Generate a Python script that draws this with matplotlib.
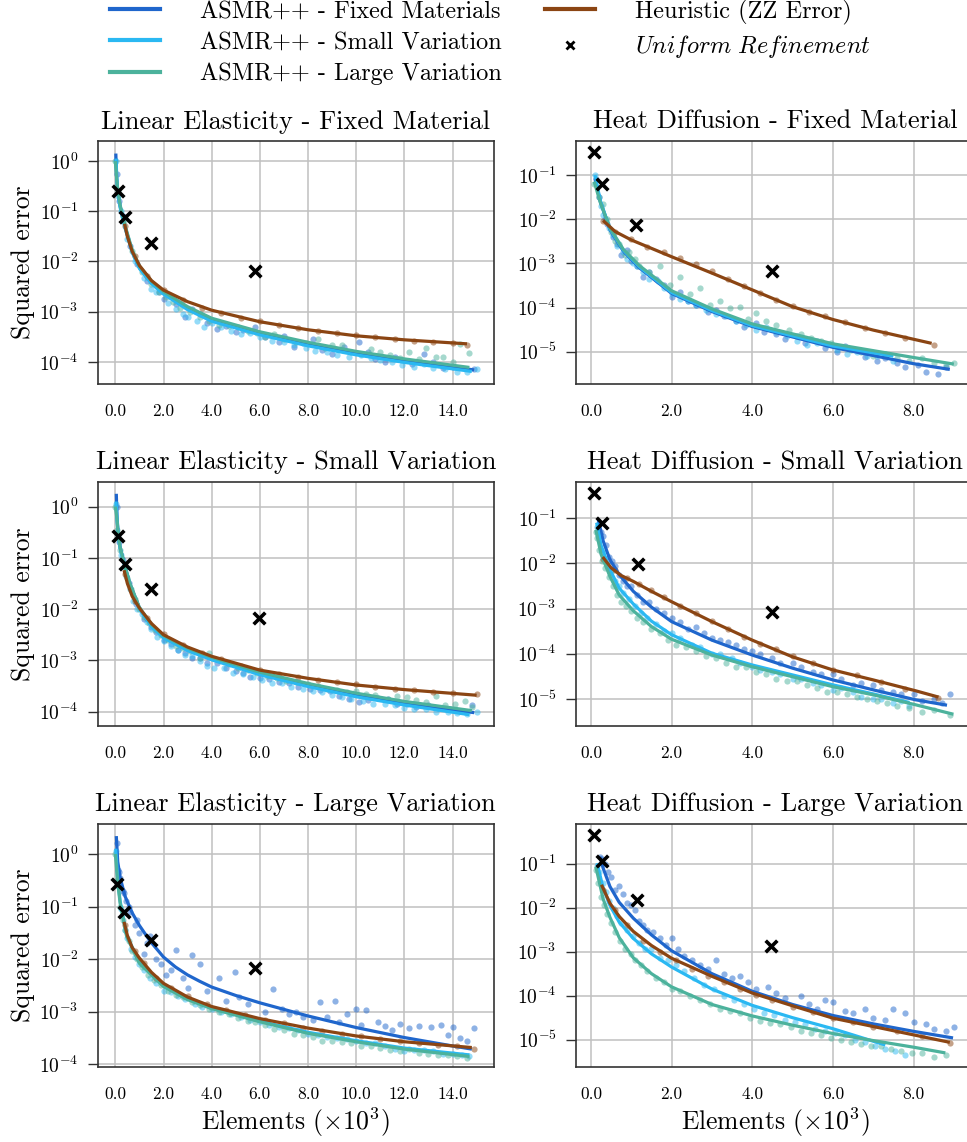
import matplotlib
matplotlib.use("Agg")
import matplotlib.pyplot as plt
import numpy as np
from matplotlib.lines import Line2D
from matplotlib.ticker import FixedLocator, FormatStrFormatter, NullLocator

plt.rcParams['font.family'] = 'cmr10'
plt.rcParams['mathtext.fontset'] = 'cm'
plt.rcParams['axes.formatter.use_mathtext'] = True

# colours of the four methods
C_FIXED = '#1f66cc'
C_SMALL = '#2ab8f2'
C_LARGE = '#4cb29c'
C_HEUR = '#8b4513'

LABELS = ['ASMR++ - Fixed Materials', 'ASMR++ - Small Variation',
          'ASMR++ - Large Variation', 'Heuristic (ZZ Error)',
          r'$\mathit{Uniform\ Refinement}$']

TITLES = ['Linear Elasticity - Fixed Material', 'Heat Diffusion - Fixed Material',
          'Linear Elasticity - Small Variation', 'Heat Diffusion - Small Variation',
          'Linear Elasticity - Large Variation', 'Heat Diffusion - Large Variation']

# all points: (elements in thousands, log10 of squared error)

# ---- Linear Elasticity - Fixed Material
LEF_FIXED_LINE = [(0.02, 0.15), (0.05, -0.3), (0.1, -0.6), (0.2, -0.9), (0.4, -1.3), (0.7, -1.8), (1.0, -2.12),
                  (1.5, -2.42), (2.0, -2.62), (3.0, -2.93), (4.0, -3.16), (6.0, -3.43), (8.0, -3.65),
                  (10.0, -3.83), (12.0, -3.98), (14.9, -4.16)]
LEF_SMALL_LINE = [(0.03, 0.05), (0.06, -0.35), (0.1, -0.62), (0.2, -0.93), (0.4, -1.33), (0.7, -1.82),
                  (1.0, -2.14), (1.5, -2.44), (2.0, -2.65), (3.0, -2.96), (4.0, -3.19), (6.0, -3.46),
                  (8.0, -3.68), (10.0, -3.86), (12.0, -4.01), (14.8, -4.19)]
LEF_LARGE_LINE = [(0.0, 0.0), (0.05, -0.32), (0.1, -0.58), (0.2, -0.88), (0.4, -1.28), (0.7, -1.77),
                  (1.0, -2.09), (1.5, -2.39), (2.0, -2.6), (3.0, -2.9), (4.0, -3.13), (6.0, -3.4),
                  (8.0, -3.61), (10.0, -3.79), (12.0, -3.94), (14.7, -4.11)]
LEF_HEUR_LINE = [(0.38, -1.25), (0.5, -1.5), (0.7, -1.8), (1.0, -2.08), (1.5, -2.38), (2.0, -2.57), (3.0, -2.8),
                 (4.0, -2.97), (6.0, -3.2), (8.0, -3.36), (10.0, -3.48), (12.0, -3.56), (14.6, -3.64)]
LEF_FIXED_PTS = [(0.05, -0.25), (0.15, -0.8), (0.3, -1.1), (0.6, -1.7), (0.9, -2.05), (1.3, -2.38), (1.8, -2.6),
                 (2.5, -2.85), (3.2, -2.95), (3.8, -3.22), (4.6, -3.28), (5.3, -3.36), (6.2, -3.5), (7.0, -3.48),
                 (7.8, -3.62), (8.6, -3.76), (9.5, -3.7), (10.1, -3.6), (10.8, -3.95), (11.6, -3.9),
                 (12.3, -4.05), (13.2, -4.0), (14.0, -4.1), (14.9, -4.15), (2.0, -2.75), (2.9, -3.1),
                 (3.5, -3.05), (4.2, -3.35), (5.0, -3.4), (5.8, -3.3), (6.8, -3.6), (7.4, -3.7), (8.2, -3.55),
                 (9.0, -3.85), (10.5, -3.8), (11.2, -4.0), (12.8, -3.85), (13.6, -4.12)]
LEF_SMALL_PTS = [(0.03, 0.0), (0.12, -0.7), (0.25, -1.0), (0.5, -1.55), (0.8, -2.0), (1.2, -2.32), (1.7, -2.6),
                 (2.2, -2.82), (2.8, -3.05), (3.4, -3.18), (4.0, -3.22), (4.8, -3.38), (5.6, -3.42),
                 (6.5, -3.58), (7.4, -3.66), (8.3, -3.78), (9.2, -3.86), (10.2, -3.86), (11.0, -3.97),
                 (11.9, -4.06), (12.8, -4.04), (13.7, -4.15), (14.6, -4.2), (15.0, -4.15), (1.5, -2.55),
                 (2.5, -2.95), (3.0, -3.1), (3.7, -3.3), (4.4, -3.3), (5.2, -3.45), (6.0, -3.5), (7.0, -3.6),
                 (7.9, -3.72), (8.8, -3.8), (9.7, -3.9), (10.6, -3.92), (11.5, -4.0), (12.4, -4.1),
                 (13.2, -4.12), (14.2, -4.2)]
LEF_LARGE_PTS = [(0.0, 0.0), (0.1, -0.6), (0.35, -1.2), (0.7, -1.8), (1.1, -2.2), (1.5, -2.45), (2.1, -2.7),
                 (2.7, -2.92), (3.5, -3.1), (4.3, -3.26), (5.1, -3.3), (5.9, -3.42), (6.6, -3.45), (7.5, -3.6),
                 (8.4, -3.55), (9.0, -3.67), (9.8, -3.8), (10.6, -3.75), (11.4, -3.86), (12.2, -3.8),
                 (12.9, -3.72), (13.6, -3.9), (14.3, -3.65), (14.7, -3.82), (1.8, -2.6), (2.4, -2.8),
                 (3.1, -3.0), (3.9, -3.18), (4.7, -3.28), (5.5, -3.38), (6.2, -3.5), (7.0, -3.55), (7.9, -3.62),
                 (8.7, -3.72), (9.4, -3.66), (10.2, -3.85), (11.0, -3.8), (11.8, -3.92), (12.6, -3.95),
                 (13.3, -3.9), (14.0, -4.0)]
LEF_HEUR_PTS = [(0.4, -1.3), (0.8, -1.9), (1.3, -2.28), (2.0, -2.56), (2.8, -2.76), (3.6, -2.92), (4.4, -3.02),
                (5.2, -3.12), (6.0, -3.19), (6.8, -3.27), (7.6, -3.33), (8.4, -3.38), (9.2, -3.43),
                (10.0, -3.47), (10.8, -3.51), (11.6, -3.55), (12.4, -3.58), (13.2, -3.61), (14.0, -3.63),
                (14.6, -3.67)]
LEF_UNIF = [(0.1, -0.59), (0.39, -1.12), (1.49, -1.64), (5.8, -2.19)]

# ---- Heat Diffusion - Fixed Material
HDF_FIXED_LINE = [(0.1, -1.07), (0.23, -1.6), (0.47, -2.24), (0.8, -2.72), (1.2, -3.1), (2.0, -3.68),
                  (3.0, -4.09), (4.0, -4.43), (6.0, -4.9), (8.0, -5.27), (8.9, -5.4)]
HDF_SMALL_LINE = [(0.1, -1.0), (0.23, -1.58), (0.47, -2.22), (0.8, -2.7), (1.2, -3.08), (2.0, -3.66),
                  (3.0, -4.07), (4.0, -4.41), (6.0, -4.87), (7.5, -5.1)]
HDF_LARGE_LINE = [(0.08, -1.15), (0.23, -1.62), (0.47, -2.2), (0.8, -2.68), (1.2, -3.05), (2.0, -3.62),
                  (3.0, -4.03), (4.0, -4.37), (6.0, -4.82), (8.0, -5.13), (9.0, -5.28)]
HDF_HEUR_LINE = [(0.3, -2.03), (0.6, -2.28), (1.0, -2.47), (2.0, -2.85), (3.0, -3.22), (4.0, -3.6),
                 (5.0, -3.98), (6.0, -4.27), (7.0, -4.51), (8.45, -4.81)]
HDF_FIXED_PTS = [(0.12, -1.1), (0.2, -1.5), (0.35, -2.0), (0.55, -2.4), (0.75, -2.8), (1.0, -2.95), (1.3, -3.3),
                 (1.6, -3.35), (2.0, -3.75), (2.4, -3.85), (2.9, -4.1), (3.3, -4.2), (3.8, -4.45), (4.3, -4.55),
                 (4.8, -4.72), (5.3, -4.8), (5.8, -4.92), (6.3, -4.88), (6.8, -5.12), (7.3, -5.15),
                 (7.8, -5.35), (8.3, -5.45), (8.8, -5.35), (0.4, -2.1), (0.65, -2.55), (0.9, -2.7),
                 (1.15, -3.05), (1.45, -3.2), (1.8, -3.5), (2.2, -3.65), (2.6, -3.95), (3.1, -4.05),
                 (3.6, -4.3), (4.1, -4.35), (4.6, -4.6), (5.1, -4.65), (5.6, -4.75), (6.1, -5.0), (6.6, -4.95),
                 (7.1, -5.2), (7.6, -5.25), (8.1, -5.3), (8.6, -5.5)]
HDF_SMALL_PTS = [(0.1, -1.0), (0.25, -1.7), (0.45, -2.2), (0.65, -2.6), (0.9, -2.9), (1.15, -3.05),
                 (1.45, -3.35), (1.8, -3.55), (2.2, -3.8), (2.6, -3.95), (3.1, -4.15), (3.6, -4.3), (4.1, -4.5),
                 (4.6, -4.55), (5.1, -4.75), (5.6, -4.8), (6.1, -4.95), (6.6, -5.0), (7.1, -5.1), (7.5, -5.2),
                 (0.3, -1.9), (0.55, -2.35), (0.8, -2.75), (1.05, -3.0), (1.3, -3.2), (1.65, -3.4), (2.0, -3.7),
                 (2.4, -3.85), (2.85, -4.05), (3.35, -4.2), (3.85, -4.4), (4.35, -4.45), (4.85, -4.65),
                 (5.35, -4.85), (5.85, -4.85), (6.35, -5.05), (6.85, -5.1), (7.3, -5.05)]
HDF_LARGE_PTS = [(0.08, -1.2), (0.3, -1.65), (0.5, -2.3), (0.7, -2.55), (0.95, -2.75), (1.2, -3.05),
                 (1.7, -3.06), (2.2, -3.3), (2.7, -3.56), (3.2, -3.86), (3.7, -3.98), (4.1, -4.13), (4.6, -4.4),
                 (5.2, -4.6), (5.7, -4.75), (6.2, -4.9), (6.7, -5.0), (7.3, -5.05), (7.9, -5.2), (8.5, -5.25),
                 (9.0, -5.25), (0.2, -1.5), (0.4, -2.0), (0.6, -2.5), (0.85, -2.8), (1.1, -2.9), (1.45, -3.2),
                 (1.95, -3.5), (2.45, -3.7), (2.95, -3.95), (3.45, -4.0), (3.9, -4.25), (4.35, -4.3),
                 (4.9, -4.5), (5.45, -4.7), (5.95, -4.8), (6.45, -4.95), (7.0, -5.1), (7.6, -5.15),
                 (8.2, -5.15), (8.8, -5.3)]
HDF_HEUR_PTS = [(0.3, -2.05), (0.6, -2.3), (1.0, -2.45), (1.4, -2.62), (1.8, -2.75), (2.2, -2.88), (2.6, -3.02),
                (3.0, -3.18), (3.4, -3.35), (3.8, -3.52), (4.2, -3.66), (4.6, -3.83), (5.0, -3.97), (5.4, -4.1),
                (5.8, -4.2), (6.3, -4.33), (6.8, -4.47), (7.3, -4.58), (7.8, -4.68), (8.5, -4.85)]
HDF_UNIF = [(0.07, -0.47), (0.28, -1.2), (1.12, -2.12), (4.5, -3.18)]

# ---- Linear Elasticity - Small Variation
LES_FIXED_LINE = [(0.04, 0.25), (0.07, -0.2), (0.12, -0.55), (0.2, -0.8), (0.39, -1.15), (0.6, -1.5),
                  (1.0, -1.98), (1.5, -2.32), (2.0, -2.54), (3.0, -2.78), (4.0, -2.96), (6.0, -3.25),
                  (8.0, -3.48), (10.0, -3.68), (12.0, -3.84), (14.9, -4.02)]
LES_SMALL_LINE = [(0.03, 0.1), (0.07, -0.25), (0.12, -0.58), (0.2, -0.82), (0.39, -1.17), (0.6, -1.52),
                  (1.0, -2.0), (1.5, -2.34), (2.0, -2.56), (3.0, -2.81), (4.0, -2.99), (6.0, -3.28),
                  (8.0, -3.51), (10.0, -3.71), (12.0, -3.87), (14.7, -4.06)]
LES_LARGE_LINE = [(0.0, 0.0), (0.07, -0.25), (0.12, -0.55), (0.2, -0.8), (0.39, -1.14), (0.6, -1.49),
                  (1.0, -1.97), (1.5, -2.3), (2.0, -2.52), (3.0, -2.76), (4.0, -2.94), (6.0, -3.23),
                  (8.0, -3.45), (10.0, -3.64), (12.0, -3.8), (14.8, -3.98)]
LES_HEUR_LINE = [(0.36, -1.24), (0.5, -1.5), (0.7, -1.75), (1.0, -1.98), (1.5, -2.28), (2.0, -2.5),
                 (3.0, -2.74), (4.0, -2.92), (6.0, -3.19), (8.0, -3.35), (10.0, -3.48), (12.0, -3.57),
                 (15.0, -3.68)]
LES_FIXED_PTS = [(0.05, 0.0), (0.15, -0.7), (0.3, -1.05), (0.55, -1.5), (0.85, -1.9), (1.2, -2.2), (1.7, -2.45),
                 (2.3, -2.68), (2.9, -2.85), (3.5, -2.95), (4.2, -3.05), (5.0, -3.2), (5.6, -3.32),
                 (6.4, -3.36), (7.2, -3.45), (8.1, -3.55), (8.9, -3.6), (9.7, -3.75), (10.5, -3.78),
                 (11.3, -3.75), (12.1, -3.85), (13.0, -3.88), (13.9, -3.95), (14.8, -3.88), (1.5, -2.35),
                 (2.0, -2.6), (2.6, -2.8), (3.2, -2.95), (3.8, -3.05), (4.6, -3.15), (5.3, -3.25), (6.0, -3.35),
                 (6.8, -3.42), (7.6, -3.52), (8.5, -3.58), (9.3, -3.7), (10.1, -3.82), (10.9, -3.74),
                 (11.7, -3.85), (12.5, -3.9), (13.4, -3.92), (14.3, -3.98)]
LES_SMALL_PTS = [(0.02, 0.05), (0.1, -0.55), (0.25, -0.95), (0.45, -1.35), (0.75, -1.85), (1.1, -2.1),
                 (1.5, -2.38), (2.0, -2.62), (2.6, -2.8), (3.2, -2.92), (3.8, -3.1), (4.5, -3.15), (5.3, -3.27),
                 (6.1, -3.38), (6.9, -3.45), (7.8, -3.55), (8.6, -3.62), (9.4, -3.72), (10.3, -3.8),
                 (11.2, -3.85), (12.0, -3.92), (12.9, -3.95), (13.8, -4.0), (14.6, -4.05), (0.6, -1.6),
                 (0.9, -2.0), (1.3, -2.25), (1.75, -2.55), (2.3, -2.72), (2.9, -2.9), (3.5, -3.02), (4.1, -3.15),
                 (4.9, -3.25), (5.7, -3.32), (6.5, -3.45), (7.3, -3.52), (8.2, -3.6), (9.0, -3.68), (9.8, -3.75),
                 (10.7, -3.85), (11.6, -3.88), (12.4, -3.95), (13.3, -4.0), (14.2, -4.02), (15.0, -4.0)]
LES_LARGE_PTS = [(0.0, 0.0), (0.08, -0.45), (0.2, -0.85), (0.4, -1.2), (0.65, -1.6), (1.0, -2.0), (1.4, -2.28),
                 (1.9, -2.5), (2.5, -2.72), (3.1, -2.82), (3.9, -2.85), (4.7, -3.08), (5.5, -3.18), (6.3, -3.3),
                 (7.1, -3.4), (8.0, -3.47), (8.8, -3.55), (9.6, -3.62), (10.4, -3.65), (11.3, -3.75),
                 (12.1, -3.72), (12.9, -3.82), (13.7, -3.88), (14.5, -3.8), (0.5, -1.4), (0.8, -1.8),
                 (1.2, -2.15), (1.65, -2.4), (2.2, -2.6), (2.8, -2.75), (3.5, -2.95), (4.3, -3.0), (5.1, -3.15),
                 (5.9, -3.25), (6.7, -3.35), (7.5, -3.42), (8.4, -3.5), (9.2, -3.58), (10.0, -3.6),
                 (10.8, -3.68), (11.7, -3.7), (12.5, -3.78), (13.3, -3.7), (14.1, -3.85), (14.8, -3.9)]
LES_HEUR_PTS = [(0.4, -1.32), (0.8, -1.85), (1.3, -2.18), (2.0, -2.48), (2.8, -2.7), (3.6, -2.86), (4.4, -2.98),
                (5.2, -3.1), (6.0, -3.18), (6.8, -3.26), (7.6, -3.32), (8.4, -3.38), (9.2, -3.43),
                (10.0, -3.47), (10.8, -3.51), (11.6, -3.55), (12.4, -3.58), (13.2, -3.61), (14.0, -3.64),
                (15.0, -3.66)]
LES_UNIF = [(0.09, -0.57), (0.39, -1.11), (1.46, -1.61), (5.97, -2.17)]

# ---- Heat Diffusion - Small Variation
HDS_FIXED_LINE = [(0.18, -1.03), (0.3, -1.5), (0.47, -1.92), (0.7, -2.25), (1.05, -2.62), (1.5, -2.97),
                  (2.0, -3.29), (3.0, -3.7), (4.0, -4.03), (5.0, -4.32), (6.0, -4.58), (7.0, -4.8),
                  (8.05, -5.02), (8.83, -5.14)]
HDS_SMALL_LINE = [(0.14, -1.1), (0.25, -1.6), (0.47, -2.14), (0.7, -2.55), (1.05, -2.9), (1.5, -3.28),
                  (2.0, -3.58), (3.0, -3.99), (4.0, -4.25), (5.0, -4.47), (6.0, -4.69), (7.0, -4.89),
                  (7.9, -5.08)]
HDS_LARGE_LINE = [(0.12, -1.26), (0.25, -1.8), (0.47, -2.29), (0.7, -2.7), (1.05, -3.05), (1.5, -3.4),
                  (2.0, -3.68), (3.0, -4.03), (4.0, -4.29), (5.0, -4.51), (6.0, -4.73), (7.0, -4.91),
                  (8.05, -5.13), (8.99, -5.34)]
HDS_HEUR_LINE = [(0.29, -1.86), (0.5, -2.1), (0.75, -2.27), (1.05, -2.4), (1.5, -2.62), (2.0, -2.85),
                 (3.0, -3.29), (4.0, -3.7), (5.0, -4.07), (6.0, -4.36), (7.0, -4.58), (8.05, -4.82),
                 (8.62, -4.96)]
HDS_FIXED_PTS = [(0.2, -1.1), (0.3, -1.4), (0.45, -1.85), (0.6, -2.05), (0.8, -2.4), (1.0, -2.5), (1.3, -2.85),
                 (1.6, -3.0), (2.0, -3.2), (2.4, -3.45), (2.8, -3.55), (3.2, -3.7), (3.6, -3.8), (4.0, -3.95),
                 (4.5, -4.1), (5.0, -4.2), (5.5, -4.4), (6.0, -4.45), (6.5, -4.7), (7.0, -4.7), (7.5, -4.85),
                 (8.0, -4.9), (8.5, -5.0), (8.9, -4.9), (0.25, -1.3), (0.38, -1.6), (0.52, -1.95), (0.7, -2.25),
                 (0.9, -2.5), (1.15, -2.7), (1.45, -2.85), (1.8, -3.1), (2.2, -3.3), (2.6, -3.4), (3.0, -3.65),
                 (3.4, -3.75), (3.8, -3.9), (4.2, -4.0), (4.7, -4.2), (5.2, -4.3), (5.7, -4.45), (6.2, -4.55),
                 (6.7, -4.65), (7.2, -4.8), (7.7, -4.9), (8.2, -5.05), (8.7, -5.1)]
HDS_SMALL_PTS = [(0.15, -1.2), (0.3, -1.75), (0.5, -2.2), (0.7, -2.5), (0.95, -2.8), (1.25, -3.1), (1.6, -3.35),
                 (2.0, -3.55), (2.5, -3.8), (3.0, -4.0), (3.5, -4.1), (4.0, -4.3), (4.5, -4.4), (5.0, -4.55),
                 (5.5, -4.65), (6.0, -4.8), (6.5, -4.85), (7.0, -5.0), (7.5, -5.1), (7.9, -5.15), (0.2, -1.4),
                 (0.4, -2.0), (0.6, -2.4), (0.8, -2.65), (1.1, -2.95), (1.4, -3.2), (1.8, -3.5), (2.2, -3.65),
                 (2.7, -3.85), (3.2, -4.0), (3.7, -4.2), (4.2, -4.35), (4.7, -4.45), (5.2, -4.55), (5.7, -4.7),
                 (6.2, -4.75), (6.7, -4.95), (7.2, -5.0), (7.7, -5.05)]
HDS_LARGE_PTS = [(0.12, -1.3), (0.2, -1.7), (0.35, -2.1), (0.55, -2.5), (0.75, -2.85), (1.0, -3.05),
                 (1.3, -3.3), (1.7, -3.55), (2.1, -3.8), (2.6, -3.95), (3.1, -4.1), (3.6, -4.3), (4.1, -4.4),
                 (4.6, -4.55), (5.1, -4.6), (5.6, -4.75), (6.1, -4.85), (6.6, -4.95), (7.1, -5.05),
                 (7.6, -5.15), (8.2, -5.3), (8.9, -5.35), (0.15, -1.45), (0.28, -1.95), (0.45, -2.3),
                 (0.65, -2.7), (0.88, -2.95), (1.15, -3.2), (1.5, -3.45), (1.9, -3.7), (2.35, -3.85),
                 (2.85, -4.05), (3.35, -4.2), (3.85, -4.3), (4.35, -4.45), (4.85, -4.6), (5.35, -4.7),
                 (5.85, -4.85), (6.35, -4.9), (6.85, -5.0), (7.35, -5.1), (7.9, -5.2), (8.5, -5.25)]
HDS_HEUR_PTS = [(0.3, -1.9), (0.6, -2.15), (0.9, -2.33), (1.2, -2.45), (1.5, -2.6), (1.8, -2.75), (2.2, -2.95),
                (2.6, -3.1), (3.0, -3.28), (3.4, -3.45), (3.8, -3.62), (4.2, -3.78), (4.6, -3.9), (5.0, -4.05),
                (5.5, -4.2), (6.0, -4.35), (6.6, -4.48), (7.2, -4.62), (7.8, -4.78), (8.6, -4.98)]
HDS_UNIF = [(0.07, -0.45), (0.28, -1.11), (1.16, -2.02), (4.48, -3.08)]

# ---- Linear Elasticity - Large Variation
LEL_FIXED_LINE = [(0.04, 0.34), (0.1, -0.15), (0.2, -0.45), (0.4, -0.8), (0.7, -1.12), (1.0, -1.36),
                  (1.45, -1.66), (2.0, -1.96), (2.5, -2.15), (3.0, -2.3), (3.5, -2.42), (4.0, -2.53),
                  (5.0, -2.69), (6.0, -2.83), (8.0, -3.08), (10.0, -3.3), (12.0, -3.49), (14.0, -3.65),
                  (14.8, -3.71)]
LEL_SMALL_LINE = [(0.02, 0.1), (0.1, -0.5), (0.2, -0.9), (0.47, -1.55), (1.0, -2.06), (2.0, -2.5), (3.0, -2.75),
                  (4.0, -2.93), (6.0, -3.18), (8.0, -3.39), (10.0, -3.55), (12.0, -3.69), (14.7, -3.82)]
LEL_LARGE_LINE = [(0.0, 0.0), (0.1, -0.55), (0.2, -0.94), (0.47, -1.57), (1.0, -2.08), (2.0, -2.52),
                  (3.0, -2.77), (4.0, -2.94), (6.0, -3.19), (8.0, -3.41), (10.0, -3.57), (12.0, -3.71),
                  (14.7, -3.85)]
LEL_HEUR_LINE = [(0.36, -1.29), (0.5, -1.55), (0.7, -1.78), (1.0, -1.98), (1.5, -2.25), (2.0, -2.46),
                 (3.0, -2.72), (4.0, -2.9), (6.0, -3.13), (8.0, -3.31), (10.0, -3.46), (12.0, -3.57),
                 (14.8, -3.68)]
LEL_FIXED_PTS = [(0.05, 0.2), (0.1, -0.3), (0.2, -0.45), (0.3, -0.7), (0.45, -0.9), (0.6, -1.1), (0.8, -1.35),
                 (1.0, -1.5), (1.2, -1.9), (1.45, -1.55), (1.7, -2.0), (2.1, -2.3), (2.5, -1.83), (3.0, -2.55),
                 (3.2, -1.92), (3.5, -2.09), (4.3, -2.35), (4.95, -2.25), (5.15, -2.71), (6.55, -2.57),
                 (6.9, -2.95), (7.8, -3.1), (8.5, -2.81), (8.8, -3.1), (9.1, -2.8), (9.6, -3.04), (10.0, -2.95),
                 (10.4, -2.97), (10.9, -3.19), (11.2, -3.27), (11.8, -3.23), (12.6, -3.27), (13.1, -3.28),
                 (13.5, -3.25), (14.0, -3.28), (14.3, -3.5), (14.9, -3.3), (0.15, -0.35), (0.35, -0.75),
                 (0.55, -1.0), (0.9, -1.25), (1.3, -1.7), (1.9, -2.1), (2.3, -2.2), (2.8, -2.35), (3.8, -2.6),
                 (4.6, -2.8), (5.5, -2.85), (6.2, -3.0), (7.2, -3.05), (7.5, -3.0), (8.2, -3.15), (9.3, -3.2),
                 (10.2, -3.25), (11.5, -3.35), (12.2, -3.3), (13.8, -3.45), (14.6, -3.55)]
LEL_SMALL_PTS = [(0.02, 0.05), (0.1, -0.6), (0.25, -1.05), (0.5, -1.6), (0.8, -1.95), (1.2, -2.2), (1.7, -2.45),
                 (2.3, -2.62), (2.9, -2.75), (3.6, -2.9), (4.4, -3.0), (5.2, -3.1), (6.0, -3.2), (6.8, -3.28),
                 (7.6, -3.35), (8.4, -3.45), (9.2, -3.5), (10.0, -3.55), (10.8, -3.6), (11.6, -3.7),
                 (12.4, -3.72), (13.2, -3.75), (14.0, -3.8), (14.7, -3.85), (0.4, -1.45), (0.65, -1.8),
                 (1.0, -2.1), (1.45, -2.35), (2.0, -2.6), (2.6, -2.7), (3.3, -2.85), (4.0, -2.95), (4.8, -3.05),
                 (5.6, -3.15), (6.4, -3.25), (7.2, -3.3), (8.0, -3.42), (8.8, -3.48), (9.6, -3.52), (10.4, -3.6),
                 (11.2, -3.65), (12.0, -3.75), (12.8, -3.72), (13.6, -3.8), (14.4, -3.82)]
LEL_LARGE_PTS = [(0.0, 0.0), (0.08, -0.5), (0.2, -1.0), (0.4, -1.45), (0.7, -1.85), (1.1, -2.15), (1.6, -2.4),
                 (2.2, -2.6), (2.8, -2.72), (3.5, -2.88), (4.3, -3.0), (5.1, -3.12), (5.8, -3.2), (6.6, -3.32),
                 (7.4, -3.42), (8.2, -3.48), (9.0, -3.55), (9.8, -3.6), (10.6, -3.65), (11.4, -3.72),
                 (12.2, -3.7), (13.0, -3.8), (13.8, -3.82), (14.6, -3.88), (0.3, -1.25), (0.55, -1.65),
                 (0.9, -2.0), (1.35, -2.3), (1.9, -2.5), (2.5, -2.68), (3.2, -2.82), (3.9, -2.95), (4.7, -3.05),
                 (5.5, -3.18), (6.2, -3.25), (7.0, -3.35), (7.8, -3.45), (8.6, -3.55), (9.4, -3.58),
                 (10.2, -3.65), (11.0, -3.68), (11.8, -3.75), (12.6, -3.78), (13.4, -3.82), (14.2, -3.85)]
LEL_HEUR_PTS = [(0.4, -1.35), (0.8, -1.85), (1.2, -2.08), (1.7, -2.35), (2.3, -2.55), (3.0, -2.7), (3.8, -2.85),
                (4.6, -2.97), (5.4, -3.07), (6.2, -3.15), (7.0, -3.22), (7.8, -3.3), (8.6, -3.36), (9.4, -3.42),
                (10.2, -3.47), (11.0, -3.51), (11.8, -3.55), (12.6, -3.6), (13.4, -3.63), (14.2, -3.66),
                (14.9, -3.7)]
LEL_UNIF = [(0.08, -0.57), (0.37, -1.11), (1.46, -1.63), (5.8, -2.16)]

# ---- Heat Diffusion - Large Variation
HDL_FIXED_LINE = [(0.22, -0.84), (0.3, -1.1), (0.47, -1.52), (0.7, -1.88), (1.05, -2.24), (1.5, -2.62),
                  (2.0, -2.98), (3.0, -3.5), (4.0, -3.9), (5.0, -4.2), (6.0, -4.45), (7.0, -4.64),
                  (8.0, -4.81), (8.98, -4.96)]
HDL_SMALL_LINE = [(0.15, -0.99), (0.3, -1.55), (0.47, -1.95), (0.7, -2.33), (1.05, -2.7), (1.5, -3.05),
                  (2.0, -3.35), (3.0, -3.85), (4.0, -4.22), (5.0, -4.5), (6.0, -4.75), (7.3, -5.12)]
HDL_LARGE_LINE = [(0.12, -1.07), (0.3, -1.8), (0.47, -2.22), (0.7, -2.68), (1.05, -3.14), (1.5, -3.5),
                  (2.0, -3.8), (3.0, -4.2), (4.0, -4.46), (5.0, -4.67), (6.0, -4.86), (7.0, -5.02),
                  (8.0, -5.17), (8.79, -5.3)]
HDL_HEUR_LINE = [(0.26, -1.48), (0.47, -1.9), (0.7, -2.2), (1.05, -2.54), (1.5, -2.86), (2.0, -3.15),
                 (3.0, -3.56), (4.0, -3.94), (5.0, -4.23), (6.0, -4.51), (7.0, -4.7), (8.0, -4.89),
                 (8.9, -5.06)]
HDL_FIXED_PTS = [(0.22, -0.85), (0.35, -1.0), (0.5, -1.3), (0.6, -1.6), (0.8, -1.7), (1.0, -1.95), (1.2, -2.3),
                 (1.4, -2.5), (1.7, -2.7), (2.0, -2.7), (2.3, -3.1), (2.7, -3.3), (3.1, -3.2), (3.5, -3.6),
                 (3.9, -3.7), (4.4, -3.8), (4.8, -4.05), (5.2, -4.0), (5.6, -4.3), (6.0, -4.15), (6.5, -4.4),
                 (7.0, -4.5), (7.5, -4.3), (8.0, -4.6), (8.5, -4.75), (9.0, -4.7), (0.28, -0.9), (0.42, -1.2),
                 (0.7, -1.5), (0.9, -1.9), (1.1, -2.05), (1.3, -2.4), (1.55, -2.55), (1.85, -2.85),
                 (2.15, -2.95), (2.5, -3.2), (2.9, -3.4), (3.3, -3.5), (3.7, -3.55), (4.1, -3.85), (4.6, -3.95),
                 (5.4, -4.2), (5.8, -4.1), (6.3, -4.35), (6.8, -4.3), (7.3, -4.55), (7.8, -4.4), (8.3, -4.65),
                 (8.8, -4.8)]
HDL_SMALL_PTS = [(0.15, -1.05), (0.3, -1.45), (0.45, -1.85), (0.65, -2.2), (0.9, -2.5), (1.2, -2.8), (1.5, -2.95),
                 (1.9, -3.2), (2.3, -3.45), (2.8, -3.75), (3.3, -4.0), (3.8, -4.2), (4.3, -4.4), (4.8, -4.55),
                 (5.3, -4.65), (5.8, -4.8), (6.3, -4.9), (6.8, -5.05), (7.3, -5.2), (7.8, -5.35), (0.2, -1.2),
                 (0.38, -1.65), (0.55, -2.0), (0.75, -2.35), (1.05, -2.65), (1.35, -2.95), (1.7, -3.15),
                 (2.1, -3.3), (2.55, -3.6), (3.05, -3.85), (3.55, -4.1), (4.05, -4.3), (4.55, -4.45),
                 (5.05, -4.6), (5.55, -4.75), (6.05, -4.85), (6.55, -5.0), (7.05, -5.15), (7.55, -5.25)]
HDL_LARGE_PTS = [(0.12, -1.15), (0.25, -1.75), (0.4, -2.15), (0.6, -2.55), (0.85, -2.95), (1.1, -3.2),
                 (1.4, -3.45), (1.8, -3.7), (2.2, -3.9), (2.7, -4.1), (3.2, -4.3), (3.7, -4.4), (4.2, -4.58),
                 (4.7, -4.65), (5.2, -4.8), (5.7, -4.9), (6.2, -5.0), (6.7, -5.1), (7.2, -5.15), (7.7, -5.25),
                 (8.2, -5.3), (8.8, -5.35), (0.18, -1.45), (0.32, -1.95), (0.5, -2.35), (0.72, -2.75),
                 (0.98, -3.05), (1.25, -3.3), (1.6, -3.6), (2.0, -3.85), (2.45, -4.0), (2.95, -4.2),
                 (3.45, -4.35), (3.95, -4.5), (4.45, -4.62), (4.95, -4.7), (5.45, -4.85), (5.95, -4.95),
                 (6.45, -5.05), (6.95, -5.15), (7.45, -5.2), (7.95, -5.3), (8.5, -5.4)]
HDL_HEUR_PTS = [(0.3, -1.6), (0.6, -2.05), (0.9, -2.4), (1.3, -2.75), (1.7, -3.0), (2.1, -3.2), (2.5, -3.4),
                (2.9, -3.55), (3.3, -3.7), (3.7, -3.85), (4.1, -3.98), (4.5, -4.1), (5.0, -4.25), (5.5, -4.38),
                (6.0, -4.5), (6.5, -4.6), (7.0, -4.7), (7.6, -4.8), (8.2, -4.92), (8.9, -5.08)]
HDL_UNIF = [(0.07, -0.35), (0.28, -0.95), (1.14, -1.82), (4.46, -2.87)]

# y range of each panel, log10
YLIMS = [(-4.44, 0.40), (-5.73, -0.23), (-4.28, 0.48), (-5.60, -0.20), (-4.05, 0.57), (-5.62, -0.10)]

PANELS = [
    (LEF_FIXED_LINE, LEF_SMALL_LINE, LEF_LARGE_LINE, LEF_HEUR_LINE,
     LEF_FIXED_PTS, LEF_SMALL_PTS, LEF_LARGE_PTS, LEF_HEUR_PTS, LEF_UNIF),
    (HDF_FIXED_LINE, HDF_SMALL_LINE, HDF_LARGE_LINE, HDF_HEUR_LINE,
     HDF_FIXED_PTS, HDF_SMALL_PTS, HDF_LARGE_PTS, HDF_HEUR_PTS, HDF_UNIF),
    (LES_FIXED_LINE, LES_SMALL_LINE, LES_LARGE_LINE, LES_HEUR_LINE,
     LES_FIXED_PTS, LES_SMALL_PTS, LES_LARGE_PTS, LES_HEUR_PTS, LES_UNIF),
    (HDS_FIXED_LINE, HDS_SMALL_LINE, HDS_LARGE_LINE, HDS_HEUR_LINE,
     HDS_FIXED_PTS, HDS_SMALL_PTS, HDS_LARGE_PTS, HDS_HEUR_PTS, HDS_UNIF),
    (LEL_FIXED_LINE, LEL_SMALL_LINE, LEL_LARGE_LINE, LEL_HEUR_LINE,
     LEL_FIXED_PTS, LEL_SMALL_PTS, LEL_LARGE_PTS, LEL_HEUR_PTS, LEL_UNIF),
    (HDL_FIXED_LINE, HDL_SMALL_LINE, HDL_LARGE_LINE, HDL_HEUR_LINE,
     HDL_FIXED_PTS, HDL_SMALL_PTS, HDL_LARGE_PTS, HDL_HEUR_PTS, HDL_UNIF),
]


def split(pts):
    """x values and squared error from (x, log10 error) pairs"""
    x = np.array([p[0] for p in pts])
    y = 10.0 ** np.array([p[1] for p in pts])
    return x, y


W, H = 967, 1142
fig = plt.figure(figsize=(W / 100, H / 100), dpi=100)

# axes boxes in pixels
col_px = [(98, 493.5), (576, 974)]
row_px = [(141, 384), (482, 726), (824, 1067)]
xlims = [(-0.72, 15.70), (-0.372, 9.5)]

colors = [C_FIXED, C_SMALL, C_LARGE, C_HEUR]

for i, panel in enumerate(PANELS):
    r, c = divmod(i, 2)
    x0, x1 = col_px[c]
    y0, y1 = row_px[r]
    ax = fig.add_axes([x0 / W, 1 - y1 / H, (x1 - x0) / W, (y1 - y0) / H])
    lines, pts, unif = panel[:4], panel[4:8], panel[8]

    for p, col in zip(pts, colors):
        x, y = split(p)
        ax.scatter(x, y, s=20, color=col, alpha=0.5, lw=0, zorder=2)
    for ln, col in zip(lines, colors):
        x, y = split(ln)
        ax.plot(x, y, color=col, lw=2.3, zorder=3, solid_capstyle='butt')
    x, y = split(unif)
    ax.scatter(x, y, marker='x', s=70, color='black', linewidths=2.6, zorder=5)

    ax.set_yscale('log')
    lo, hi = YLIMS[i]
    ax.set_ylim(10 ** lo, 10 ** hi)
    ax.set_xlim(*xlims[c])
    if c == 0:
        ax.xaxis.set_major_locator(FixedLocator([0, 2, 4, 6, 8, 10, 12, 14]))
        ax.yaxis.set_major_locator(FixedLocator([1, 1e-1, 1e-2, 1e-3, 1e-4]))
        ax.set_ylabel('Squared error', fontsize=18.5, labelpad=3)
    else:
        ax.xaxis.set_major_locator(FixedLocator([0, 2, 4, 6, 8]))
        ax.yaxis.set_major_locator(FixedLocator([1e-1, 1e-2, 1e-3, 1e-4, 1e-5]))
    ax.yaxis.set_minor_locator(NullLocator())
    ax.xaxis.set_major_formatter(FormatStrFormatter('%.1f'))
    ax.tick_params(axis='y', length=7, width=1, pad=7, labelsize=14, color='#333333')
    ax.tick_params(axis='x', length=0, pad=14, labelsize=12.5)
    ax.grid(True, color='#c0c0c0', lw=1.1, zorder=0)
    ax.set_axisbelow(True)
    for s in ax.spines.values():
        s.set_color('#333333')
        s.set_linewidth(1.2)
    ax.set_title(TITLES[i], fontsize=19, pad=9)
    if r == 2:
        ax.set_xlabel(r'Elements $(\times 10^3)$', fontsize=18.5, labelpad=3)

handles = [Line2D([], [], color=col, lw=3) for col in colors]
handles.append(Line2D([], [], ls='', marker='x', color='black', markersize=6, mew=2))
fig.legend(handles, LABELS, loc='upper left', bbox_to_anchor=(100 / W, 1.009), ncol=2,
           frameon=False, fontsize=17.5, handlelength=2.06, handletextpad=1.65,
           columnspacing=1.77, labelspacing=0.36, borderaxespad=0)

fig.savefig('out.png', dpi=100)
